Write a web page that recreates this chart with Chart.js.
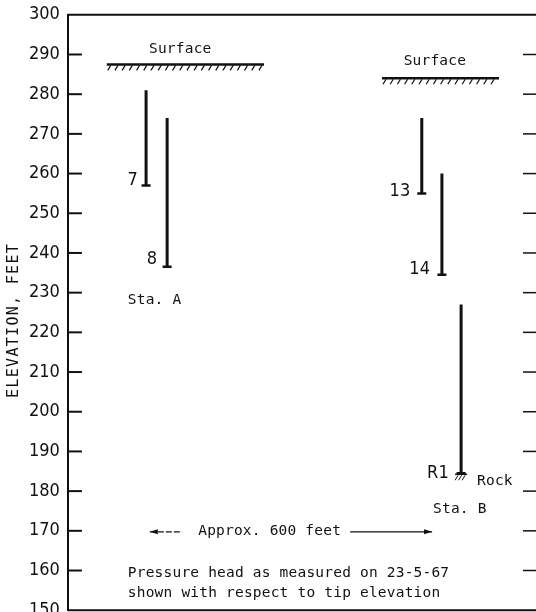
<!DOCTYPE html>
<html>
<head>
<meta charset="utf-8">
<script src="https://cdn.jsdelivr.net/npm/chart.js@4"></script>
<style>
  html, body { margin: 0; padding: 0; background: #fff; overflow: hidden; }
  #wrap { position: relative; width: 543px; height: 633px; margin-top: -4px; }
</style>
</head>
<body>
<div id="wrap"><canvas id="section"></canvas></div>
<script>
"use strict";
// piezometers: x = distance along section (ft), elevations in ft
const tipNames = ["7", "8", "13", "14", "R1"];
const tipX = [167, 212, 756, 799, 840];
const headElev = [281, 274, 274, 260, 227];
const tipElev = [257, 236.5, 255, 234.5, 184.5];

// ground surface at each station
const surfaceFrom = [83, 671];
const surfaceTo = [419, 921];
const surfaceElev = [287.5, 284];

const yMin = 150;
const yMax = 300;
const yStep = 10;

const ink = "#111";
const monoFont = "14.5px 'DejaVu Sans Mono', 'Liberation Mono', monospace";
const numFont = "18px 'DejaVu Sans Condensed', 'Liberation Sans Narrow', sans-serif";

// text notes placed in data coordinates
const notes = [
    { text: "Surface", x: 240, y: 291.3, align: "center", font: monoFont },
    { text: "Surface", x: 784, y: 288.3, align: "center", font: monoFont },
    { text: "7", x: 150, y: 258.3, align: "right", font: numFont },
    { text: "8", x: 191, y: 238.4, align: "right", font: numFont },
    { text: "13", x: 732, y: 255.5, align: "right", font: numFont },
    { text: "14", x: 774, y: 235.9, align: "right", font: numFont },
    { text: "R1", x: 814, y: 184.4, align: "right", font: numFont },
    { text: "Rock", x: 874, y: 182.5, align: "left", font: monoFont },
    { text: "Sta. A", x: 128, y: 228.1, align: "left", font: monoFont },
    { text: "Sta. B", x: 780, y: 175.4, align: "left", font: monoFont },
    { text: "Approx. 600 feet", x: 431, y: 170, align: "center", font: monoFont },
    { text: "Pressure head as measured on 23-5-67", x: 128, y: 159.3, align: "left", font: monoFont },
    { text: "shown with respect to tip elevation", x: 128, y: 154.4, align: "left", font: monoFont },
];

const datasets = [];
tipNames.forEach((name, i) => {
    datasets.push({
        label: "Piezometer " + name,
        data: [{ x: tipX[i], y: headElev[i] }, { x: tipX[i], y: tipElev[i] }],
        showLine: true,
        borderColor: ink,
        borderWidth: 3,
        pointStyle: "line",
        pointRadius: [0, 4.5],
        pointBorderWidth: 2.5,
        pointBorderColor: ink,
    });
});
surfaceElev.forEach((elev, i) => {
    datasets.push({
        label: "Surface " + (i + 1),
        data: [{ x: surfaceFrom[i], y: elev }, { x: surfaceTo[i], y: elev }],
        showLine: true,
        borderColor: ink,
        borderWidth: 2.5,
        pointRadius: 0,
    });
});

function hatch(ctx, x0, x1, py, gap) {
    ctx.beginPath();
    for (let px = x0 + 4; px <= x1; px += gap) {
        ctx.moveTo(px, py + 1);
        ctx.lineTo(px - 3, py + 6);
    }
    ctx.stroke();
}

function arrowHead(ctx, px, py, dir) {
    ctx.beginPath();
    ctx.moveTo(px, py);
    ctx.lineTo(px - dir * 8, py - 2.5);
    ctx.lineTo(px - dir * 8, py + 2.5);
    ctx.closePath();
    ctx.fill();
}

const overlay = {
    id: "overlay",
    afterDatasetsDraw(chart) {
        const { ctx, chartArea: a, scales: { x, y } } = chart;
        ctx.save();
        ctx.strokeStyle = ink;
        ctx.fillStyle = ink;

        // frame top and bottom
        ctx.lineWidth = 2;
        ctx.beginPath();
        ctx.moveTo(a.left, a.top);
        ctx.lineTo(a.right, a.top);
        ctx.moveTo(a.left, a.bottom);
        ctx.lineTo(a.right, a.bottom);
        ctx.stroke();

        // inward ticks on both sides
        y.ticks.forEach((t) => {
            if (t.value === yMin || t.value === yMax) return;
            const py = y.getPixelForValue(t.value);
            ctx.lineWidth = 2;
            ctx.beginPath();
            ctx.moveTo(a.left, py);
            ctx.lineTo(a.left + 14, py);
            ctx.stroke();
            ctx.lineWidth = 1.5;
            ctx.beginPath();
            ctx.moveTo(a.right - 13, py);
            ctx.lineTo(a.right, py);
            ctx.stroke();
        });

        // ground hatching
        ctx.lineWidth = 1.2;
        surfaceElev.forEach((elev, i) => {
            hatch(ctx, x.getPixelForValue(surfaceFrom[i]), x.getPixelForValue(surfaceTo[i]),
                y.getPixelForValue(elev), 7.2);
        });

        // rock symbol under R1
        const rx = x.getPixelForValue(tipX[4]);
        const ry = y.getPixelForValue(tipElev[4]);
        ctx.lineWidth = 1.5;
        ctx.beginPath();
        ctx.moveTo(rx - 6, ry + 1);
        ctx.lineTo(rx + 6, ry + 1);
        ctx.stroke();
        ctx.lineWidth = 1;
        hatch(ctx, rx - 7, rx + 7, ry + 1, 3.5);

        // distance arrows
        const ay = y.getPixelForValue(170) + 1;
        const l0 = x.getPixelForValue(175), l1 = x.getPixelForValue(244);
        const r0 = x.getPixelForValue(603), r1 = x.getPixelForValue(778);
        ctx.lineWidth = 1.3;
        ctx.setLineDash([6, 2]);
        ctx.beginPath();
        ctx.moveTo(l0, ay);
        ctx.lineTo(l1, ay);
        ctx.stroke();
        ctx.setLineDash([]);
        ctx.beginPath();
        ctx.moveTo(r0, ay);
        ctx.lineTo(r1, ay);
        ctx.stroke();
        arrowHead(ctx, l0, ay, -1);
        arrowHead(ctx, r1, ay, 1);

        // notes
        ctx.textBaseline = "middle";
        ctx.letterSpacing = "0.2px";
        notes.forEach((n) => {
            ctx.font = n.font;
            ctx.textAlign = n.align;
            ctx.fillText(n.text, x.getPixelForValue(n.x), y.getPixelForValue(n.y));
        });

        // axis title
        ctx.font = "15px 'DejaVu Sans Mono', monospace";
        ctx.letterSpacing = "1.3px";
        ctx.textAlign = "center";
        ctx.translate(14, y.getPixelForValue(223));
        ctx.rotate(-Math.PI / 2);
        ctx.fillText("ELEVATION, FEET", 0, 0);
        ctx.restore();
    },
};

new Chart(document.getElementById("section"), {
    type: "scatter",
    data: { datasets: datasets },
    options: {
        responsive: true,
        maintainAspectRatio: false,
        animation: false,
        layout: { padding: { left: 21, top: 10, right: 0, bottom: 0 } },
        plugins: {
            legend: { display: false },
            tooltip: { enabled: false },
        },
        scales: {
            x: {
                type: "linear",
                min: 0,
                max: 1000,
                display: false,
            },
            y: {
                type: "linear",
                min: yMin,
                max: yMax,
                ticks: {
                    stepSize: yStep,
                    color: ink,
                    padding: 8,
                    font: { family: "'DejaVu Sans Condensed', 'Liberation Sans Narrow', sans-serif", size: 18 },
                },
                grid: { drawOnChartArea: false, drawTicks: false },
                border: { color: ink, width: 2 },
            },
        },
    },
    plugins: [overlay],
});
</script>
</body>
</html>
